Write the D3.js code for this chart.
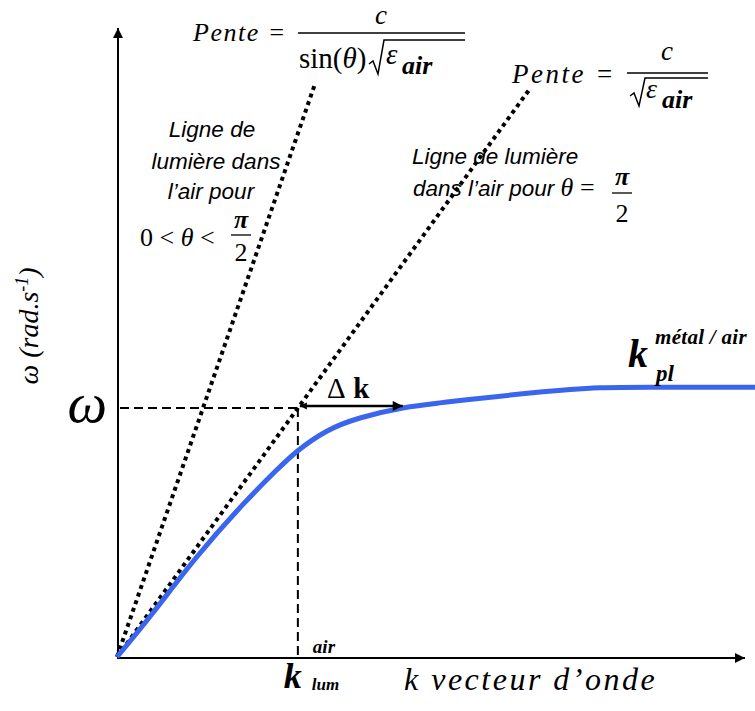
<!DOCTYPE html>
<html>
<head>
<meta charset="utf-8">
<script src="https://cdn.jsdelivr.net/npm/d3@7"></script>
<style>
  body { margin: 0; background: #fff; }
  svg { display: block; }
  .serif { font-family: "Liberation Serif", "Times New Roman", serif; }
  .sans { font-family: "Liberation Sans", Arial, sans-serif; font-style: italic; }
</style>
</head>
<body>
<svg id="canvas"></svg>
<script>
// dispersion curve of the surface plasmon (arbitrary units)
let curveK = [0, 5.7, 12.7, 20.1, 25.3, 28.8, 33.4, 38.7, 45.5, 51.4, 55.7, 66.2, 76.9, 87.6, 101.6];
let curveW = [0, 7.0, 15.9, 24.3, 29.6, 32.8, 35.9, 38.0, 39.6, 40.4, 40.9, 42.0, 42.8, 42.9, 42.9];

// light lines : slope and where they stop
let lightSlopes = [2.89, 1.374];
let lightEnds = [31.6, 65.9];

let omegaLevel = 39.6;
let kLum = 28.8;
let kArrowEnd = 45.5;

let width = 755,
  height = 711;

let canvas = d3.select("#canvas").attr("width", width).attr("height", height);

let xScale = d3.scaleLinear().domain([0, 100]).range([117, 745]);
let yScale = d3.scaleLinear().domain([0, 100]).range([657, 28]);

let defs = canvas.append("defs");
defs
  .append("marker")
  .attr("id", "head")
  .attr("viewBox", "0 0 10 10")
  .attr("refX", 10)
  .attr("refY", 5)
  .attr("markerUnits", "userSpaceOnUse")
  .attr("markerWidth", 12)
  .attr("markerHeight", 10)
  .attr("orient", "auto")
  .append("path")
  .attr("d", "M0,0 L10,5 L0,10 Z")
  .attr("fill", "#000");
defs
  .append("marker")
  .attr("id", "tail")
  .attr("viewBox", "0 0 10 10")
  .attr("refX", 0)
  .attr("refY", 5)
  .attr("markerUnits", "userSpaceOnUse")
  .attr("markerWidth", 7)
  .attr("markerHeight", 8)
  .attr("orient", "auto")
  .append("path")
  .attr("d", "M10,0 L0,5 L10,10 Z")
  .attr("fill", "#000");

// axes (no ticks, only arrows)
canvas
  .append("line")
  .attr("x1", xScale(0))
  .attr("y1", yScale(0) + 1)
  .attr("x2", xScale(100))
  .attr("y2", yScale(0) + 1)
  .attr("stroke", "#000")
  .attr("stroke-width", 2)
  .attr("marker-end", "url(#head)");
canvas
  .append("line")
  .attr("x1", xScale(0) + 1)
  .attr("y1", yScale(0) + 1)
  .attr("x2", xScale(0) + 1)
  .attr("y2", yScale(100))
  .attr("stroke", "#000")
  .attr("stroke-width", 2)
  .attr("marker-end", "url(#head)");

// dashed guides
canvas
  .append("line")
  .attr("x1", xScale(0) + 3)
  .attr("y1", yScale(omegaLevel))
  .attr("x2", xScale(kLum))
  .attr("y2", yScale(omegaLevel))
  .attr("stroke", "#000")
  .attr("stroke-width", 2)
  .attr("stroke-dasharray", "9 5");
canvas
  .append("line")
  .attr("x1", xScale(kLum))
  .attr("y1", yScale(omegaLevel))
  .attr("x2", xScale(kLum))
  .attr("y2", yScale(0))
  .attr("stroke", "#000")
  .attr("stroke-width", 2)
  .attr("stroke-dasharray", "9 5");

// light lines (dotted)
canvas
  .selectAll(".light")
  .data(lightSlopes)
  .enter()
  .append("line")
  .attr("class", "light")
  .attr("x1", xScale(0))
  .attr("y1", yScale(0))
  .attr("x2", (d, i) => xScale(lightEnds[i]))
  .attr("y2", (d, i) => yScale(d * lightEnds[i]))
  .attr("stroke", "#000")
  .attr("stroke-width", 4)
  .attr("stroke-dasharray", "4 4");

// plasmon curve
let points = curveK.map((k, i) => [k, curveW[i]]);
let line = d3
  .line()
  .x((d) => xScale(d[0]))
  .y((d) => yScale(d[1]))
  .curve(d3.curveNatural);
canvas
  .append("path")
  .datum(points)
  .attr("d", line)
  .attr("fill", "none")
  .attr("stroke", "#3a66ee")
  .attr("stroke-width", 5);

// delta k arrow
canvas
  .append("line")
  .attr("x1", xScale(kLum) + 2)
  .attr("y1", yScale(omegaLevel) - 2)
  .attr("x2", xScale(kArrowEnd))
  .attr("y2", yScale(omegaLevel) - 2)
  .attr("stroke", "#000")
  .attr("stroke-width", 2.5)
  .attr("marker-end", "url(#head)")
  .attr("marker-start", "url(#tail)");

// ---------- texts ----------
let txt = (x, y, s, size, cls, opts) => {
  let t = canvas
    .append("text")
    .attr("x", x)
    .attr("y", y)
    .attr("class", cls)
    .attr("font-size", size)
    .text(s);
  if (opts) {
    Object.keys(opts).forEach((k) => t.attr(k, opts[k]));
  }
  return t;
};
let bar = (x1, x2, y, w) => {
  canvas
    .append("line")
    .attr("x1", x1)
    .attr("x2", x2)
    .attr("y1", y)
    .attr("y2", y)
    .attr("stroke", "#000")
    .attr("stroke-width", w || 1.5);
};
let radical = (x, yTop, yBot, xEnd) => {
  canvas
    .append("path")
    .attr(
      "d",
      "M" + x + "," + (yBot - 10) + " L" + (x + 4) + "," + (yBot - 13) +
        " L" + (x + 9) + "," + yBot + " L" + (x + 15) + "," + yTop + " L" + xEnd + "," + yTop
    )
    .attr("fill", "none")
    .attr("stroke", "#000")
    .attr("stroke-width", 1.5);
};

// Pente = c / (sin(θ) √ε_air)
txt(193, 41, "Pente =", 26, "serif", { "font-style": "italic", "letter-spacing": 1.5 });
bar(298, 465, 33);
txt(381, 24, "c", 27, "serif", { "font-style": "italic", "text-anchor": "middle" });
let den = txt(299, 68, "", 29, "serif");
den.append("tspan").text("sin(");
den.append("tspan").attr("font-style", "italic").text("θ");
den.append("tspan").text(")");
radical(369, 40, 74, 465);
txt(386, 64, "ε", 29, "serif", { "font-style": "italic" });
txt(402, 74, "air", 26, "serif", { "font-style": "italic", "font-weight": "bold" });

// Pente = c / √ε_air
txt(512, 83, "Pente =", 27, "serif", { "font-style": "italic", "letter-spacing": 2.5 });
bar(627, 708, 73);
txt(667, 60, "c", 27, "serif", { "font-style": "italic", "text-anchor": "middle" });
radical(630, 78, 106, 708);
txt(646, 98, "ε", 28, "serif", { "font-style": "italic" });
txt(662, 108, "air", 26, "serif", { "font-style": "italic", "font-weight": "bold" });

// left light line text
txt(212, 137, "Ligne de", 22.5, "sans", { "text-anchor": "middle" });
txt(216, 169, "lumière dans", 22.5, "sans", { "text-anchor": "middle" });
txt(211, 199, "l’air pour", 22.5, "sans", { "text-anchor": "middle" });
let ineq = txt(140, 246, "", 26, "serif");
ineq.append("tspan").text("0 < ");
ineq.append("tspan").attr("font-style", "italic").text("θ");
ineq.append("tspan").text(" <");
txt(241, 228, "π", 26, "serif", { "font-style": "italic", "font-weight": "bold", "text-anchor": "middle" });
bar(231, 251, 235, 1.3);
txt(241, 261, "2", 26, "serif", { "text-anchor": "middle" });

// right light line text
txt(412, 164, "Ligne de lumière", 22.5, "sans");
let l2 = txt(413, 196, "dans l’air pour ", 22.5, "sans");
l2.append("tspan").attr("class", "serif").attr("font-size", 26).text("θ");
l2.append("tspan").attr("class", "serif").attr("font-size", 26).attr("font-style", "normal").text(" =");
txt(622, 185, "π", 26, "serif", { "font-style": "italic", "font-weight": "bold", "text-anchor": "middle" });
bar(612, 632, 193, 1.3);
txt(622, 222, "2", 26, "serif", { "text-anchor": "middle" });

// omega level label
txt(xScale(0) - 10, yScale(omegaLevel) + 14, "ω", 56, "serif", { "font-style": "italic", "text-anchor": "end" });

// y axis title
let yt = canvas
  .append("text")
  .attr("class", "serif")
  .attr("font-size", 28)
  .attr("font-style", "italic")
  .attr("text-anchor", "middle")
  .attr("transform", "translate(38, 326) rotate(-90)");
yt.append("tspan").text("ω (rad.s");
yt.append("tspan").attr("font-size", 18).attr("dy", -10).text("-1");
yt.append("tspan").attr("dy", 10).text(")");

// x axis title
txt(404, 690, "k vecteur d’onde", 32, "serif", { "font-style": "italic", "letter-spacing": 2.5 });

// k_lum^air
txt(xScale(kLum) - 14, 688, "k", 36, "serif", { "font-style": "italic", "font-weight": "bold" });
txt(xScale(kLum) + 15, 653, "air", 19, "serif", { "font-style": "italic", "font-weight": "bold" });
txt(xScale(kLum) + 14, 690, "lum", 17, "serif", { "font-style": "italic", "font-weight": "bold" });

// delta k
let dk = txt(327, 398, "", 29, "serif", { "font-weight": "bold", "letter-spacing": 1 });
dk.append("tspan").attr("font-weight", "normal").text("Δ ");
dk.append("tspan").text("k");

// k_pl^metal/air
txt(628, 367, "k", 40, "serif", { "font-style": "italic", "font-weight": "bold" });
txt(655, 344, "métal / air", 21, "serif", { "font-style": "italic", "font-weight": "bold", "letter-spacing": 0.3 });
txt(656, 381, "pl", 23, "serif", { "font-style": "italic", "font-weight": "bold" });
</script>
</body>
</html>
